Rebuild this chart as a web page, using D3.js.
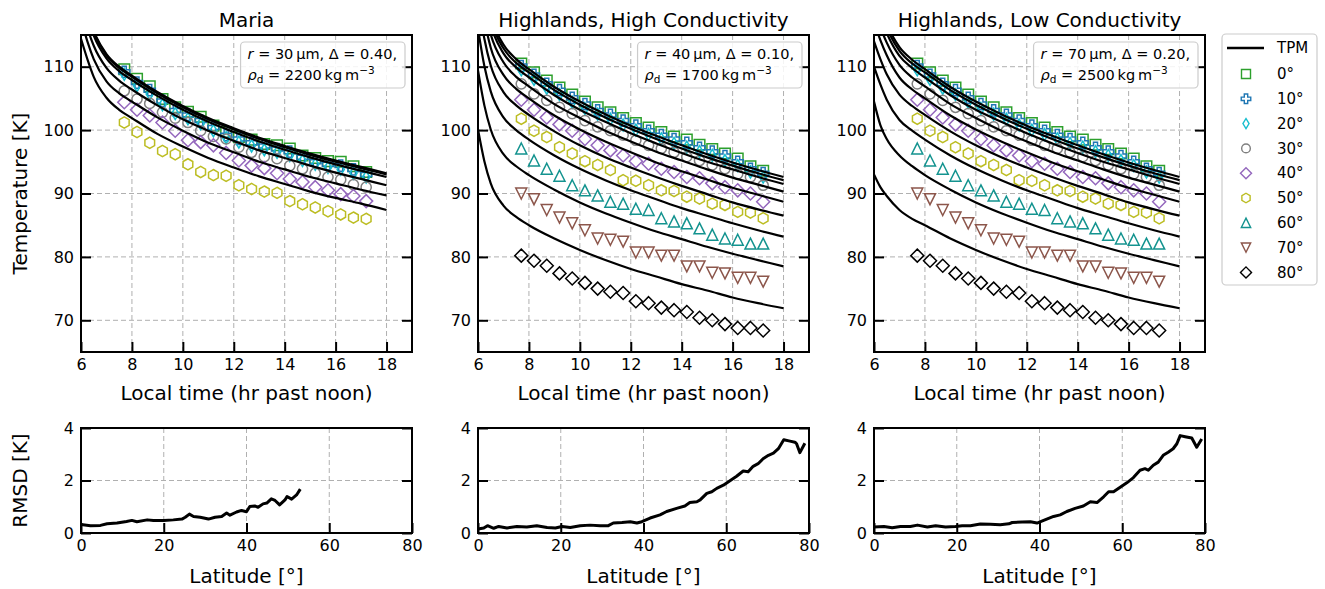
<!DOCTYPE html>
<html>
<head>
<meta charset="utf-8">
<script src="https://cdn.jsdelivr.net/npm/d3@7"></script>
<style>
  body { margin: 0; background: #fff; }
  svg { font-family: "DejaVu Sans", sans-serif; }
</style>
</head>
<body>
<svg id="chart" width="1325" height="589"></svg>
<script>
// latitudes and their legend styling
var latLabels = ["0°", "10°", "20°", "30°", "40°", "50°", "60°", "70°", "80°"];
var latColors = ["#2ca02c", "#1f77b4", "#17becf", "#7f7f7f", "#9467bd", "#bcbd22", "#13938f", "#8c564b", "#000000"];
var latMarkers = ["square", "plus", "thin", "circle", "diamond", "hexagon", "up", "down", "diamond"];

var panelTitles = ["Maria", "Highlands, High Conductivity", "Highlands, Low Conductivity"];
var panelR = ["30", "40", "70"];
var panelDelta = ["0.40", "0.10", "0.20"];
var panelRho = ["2200", "1700", "2500"];

// local time of the observation bins (hr past noon)
var obsTimes = [7.7, 8.2, 8.7, 9.2, 9.7, 10.2, 10.7, 11.2, 11.7, 12.2, 12.7, 13.2, 13.7, 14.2, 14.7, 15.2, 15.7, 16.2, 16.7, 17.2];
// times where the TPM curves were read
var tpmTimes = [6, 6.25, 6.5, 7, 7.5, 8, 9, 10, 11, 12, 13, 14, 15, 16, 17, 18];

// Maria observations, 0..50 deg
var mariaObs = [
  [109.6, 108.1, 106.9, 104.9, 103.6, 102.9, 102.1, 100.7, 99.7, 98.9, 98.5, 97.8, 97.6, 97.1, 96.0, 95.6, 95.1, 95.0, 94.3, 93.4],
  [109.2, 107.5, 106.3, 104.6, 103.1, 102.4, 101.5, 100.4, 99.2, 98.6, 98.0, 97.5, 97.0, 96.6, 95.7, 95.0, 94.6, 94.4, 93.8, 93.0],
  [108.8, 107.0, 105.7, 104.0, 102.6, 101.8, 101.0, 99.9, 98.8, 98.1, 97.5, 96.9, 96.5, 96.0, 95.2, 94.6, 94.1, 93.8, 93.2, 92.6],
  [106.2, 104.9, 104.2, 102.8, 101.9, 101.2, 99.9, 99.0, 98.6, 97.3, 96.5, 95.8, 95.5, 94.4, 93.9, 93.2, 92.6, 92.2, 91.4, 91.0],
  [104.4, 103.2, 102.3, 101.2, 99.9, 98.4, 98.1, 97.6, 96.4, 95.2, 94.4, 94.0, 93.2, 92.3, 91.8, 91.0, 90.5, 89.9, 89.6, 88.8],
  [101.2, 99.7, 98.0, 96.7, 96.2, 94.6, 93.4, 92.9, 92.8, 91.3, 90.7, 90.3, 90.1, 88.8, 88.3, 87.8, 87.2, 86.7, 86.2, 86.0]
];
var mariaTpm = [
  [122.0, 118.5, 115.6, 112.0, 110.0, 108.6, 106.0, 103.8, 101.9, 100.3, 98.8, 97.5, 96.3, 95.2, 94.2, 93.2],
  [121.8, 118.3, 115.4, 111.8, 109.8, 108.4, 105.8, 103.6, 101.7, 100.1, 98.6, 97.3, 96.1, 95.0, 94.0, 93.0],
  [121.3, 117.8, 114.9, 111.3, 109.3, 107.9, 105.4, 103.2, 101.3, 99.7, 98.2, 96.9, 95.7, 94.6, 93.6, 92.6],
  [119.6, 116.1, 113.3, 109.8, 107.8, 106.4, 103.9, 101.7, 99.9, 98.3, 96.8, 95.6, 94.4, 93.3, 92.3, 91.3],
  [117.4, 114.0, 111.2, 107.7, 105.8, 104.5, 102.0, 99.9, 98.0, 96.5, 95.0, 93.8, 92.6, 91.6, 90.6, 89.7],
  [114.4, 111.2, 108.4, 105.1, 103.2, 101.9, 99.4, 97.4, 95.6, 94.1, 92.7, 91.5, 90.3, 89.3, 88.4, 87.4]
];

// Highlands observations, 0..80 deg (same in both highland panels)
var highObs = [
  [110.5, 109.1, 107.8, 106.7, 105.6, 104.5, 103.6, 102.8, 101.9, 101.1, 100.4, 99.7, 99.0, 98.5, 97.7, 97.0, 96.3, 95.5, 94.3, 93.6],
  [110.1, 108.7, 107.3, 106.3, 105.1, 104.1, 103.1, 102.4, 101.5, 100.7, 99.9, 99.2, 98.6, 98.0, 97.2, 96.6, 95.9, 95.0, 93.9, 93.2],
  [109.5, 108.0, 106.6, 105.6, 104.4, 103.4, 102.5, 101.7, 100.8, 100.0, 99.3, 98.6, 97.9, 97.3, 96.6, 96.0, 95.2, 94.4, 93.4, 92.6],
  [107.3, 105.7, 104.7, 103.6, 102.6, 101.5, 100.5, 99.9, 99.2, 98.4, 97.6, 97.1, 96.5, 95.8, 95.2, 94.5, 93.9, 93.1, 92.6, 91.3],
  [104.8, 103.2, 102.0, 100.9, 99.9, 98.6, 97.6, 96.8, 96.0, 95.1, 94.7, 93.9, 93.4, 92.6, 92.4, 91.6, 91.0, 90.5, 90.0, 88.7],
  [101.8, 99.9, 98.9, 97.3, 96.3, 95.1, 94.5, 93.7, 92.1, 92.0, 91.3, 90.5, 90.4, 89.5, 89.2, 88.4, 88.2, 87.1, 87.0, 86.1],
  [97.1, 95.2, 93.9, 92.8, 91.3, 90.5, 89.7, 88.7, 88.4, 87.6, 87.4, 86.1, 85.6, 85.3, 84.5, 83.5, 82.9, 82.7, 82.1, 82.1],
  [90.0, 89.1, 87.4, 86.2, 85.3, 84.2, 82.9, 82.7, 82.4, 80.7, 80.7, 80.2, 80.2, 78.5, 78.5, 77.5, 77.4, 76.7, 76.7, 76.1],
  [80.2, 79.4, 78.6, 77.4, 76.6, 75.9, 75.0, 74.5, 74.3, 73.0, 72.7, 72.0, 71.6, 71.3, 70.4, 70.0, 69.4, 68.8, 68.8, 68.4]
];
var highCondTpm = [
  [129.0, 122.5, 118.0, 113.5, 111.2, 109.6, 106.8, 104.5, 102.5, 100.7, 99.1, 97.6, 96.2, 94.9, 93.7, 92.6],
  [128.4, 121.9, 117.4, 112.9, 110.6, 109.1, 106.3, 104.0, 102.0, 100.2, 98.6, 97.1, 95.7, 94.4, 93.2, 92.1],
  [127.5, 121.0, 116.6, 112.1, 109.9, 108.3, 105.5, 103.2, 101.3, 99.5, 97.9, 96.4, 95.0, 93.8, 92.6, 91.5],
  [125.8, 119.4, 115.1, 110.7, 108.4, 106.9, 104.1, 101.9, 99.9, 98.2, 96.6, 95.2, 93.8, 92.5, 91.4, 90.3],
  [123.6, 117.4, 113.0, 108.7, 106.5, 105.0, 102.3, 100.1, 98.2, 96.5, 94.9, 93.5, 92.2, 90.9, 89.8, 88.7],
  [120.5, 114.4, 110.2, 106.0, 103.9, 102.4, 99.8, 97.6, 95.7, 94.1, 92.6, 91.2, 89.9, 88.6, 87.5, 86.5],
  [116.0, 110.1, 106.1, 102.0, 100.0, 98.5, 96.0, 93.9, 92.1, 90.5, 89.1, 87.7, 86.5, 85.3, 84.2, 83.2],
  [109.4, 103.9, 100.1, 96.2, 94.3, 92.9, 90.6, 88.6, 86.9, 85.4, 84.0, 82.8, 81.6, 80.5, 79.5, 78.5],
  [100.1, 95.1, 91.6, 88.1, 86.3, 85.0, 82.9, 81.1, 79.5, 78.1, 76.9, 75.7, 74.7, 73.6, 72.7, 71.9]
];
var lowCondTpm = [
  [122.0, 119.2, 116.7, 113.1, 111.1, 109.6, 106.8, 104.5, 102.5, 100.7, 99.1, 97.6, 96.2, 94.9, 93.7, 92.6],
  [121.4, 118.6, 116.1, 112.5, 110.5, 109.1, 106.3, 104.0, 102.0, 100.2, 98.6, 97.1, 95.7, 94.4, 93.2, 92.1],
  [120.6, 117.8, 115.3, 111.7, 109.8, 108.3, 105.5, 103.2, 101.3, 99.5, 97.9, 96.4, 95.0, 93.8, 92.6, 91.5],
  [119.0, 116.2, 113.8, 110.3, 108.3, 106.9, 104.1, 101.9, 99.9, 98.2, 96.6, 95.2, 93.8, 92.5, 91.4, 90.3],
  [117.0, 114.2, 111.8, 108.3, 106.4, 105.0, 102.3, 100.1, 98.2, 96.5, 94.9, 93.5, 92.2, 90.9, 89.8, 88.7],
  [114.0, 111.2, 108.8, 105.6, 103.8, 102.4, 99.8, 97.6, 95.7, 94.1, 92.6, 91.2, 89.9, 88.6, 87.5, 86.5],
  [110.0, 107.2, 104.8, 101.6, 99.9, 98.5, 96.0, 93.9, 92.1, 90.5, 89.1, 87.7, 86.5, 85.3, 84.2, 83.2],
  [104.5, 100.8, 98.6, 96.0, 94.3, 92.9, 90.6, 88.6, 86.9, 85.4, 84.0, 82.8, 81.6, 80.5, 79.5, 78.5],
  [93.0, 91.0, 89.6, 87.4, 86.0, 85.0, 82.9, 81.1, 79.5, 78.1, 76.9, 75.7, 74.7, 73.6, 72.7, 71.9]
];

// RMSD vs latitude
var mariaRmsdLat = [0, 2.3, 4.7, 6.3, 8.7, 11, 12.3, 13.5, 16, 17.5, 20, 22.3, 24.4, 25.2, 26.2, 27.2, 28.8, 30.8, 32.4, 34, 35.2, 36, 37.6, 38.8, 40, 40.8, 42, 42.8, 44, 44.9, 46, 46.9, 48, 49.3, 49.8, 50.9, 52.1, 53];
var mariaRmsd = [0.32, 0.28, 0.29, 0.35, 0.38, 0.44, 0.48, 0.43, 0.5, 0.48, 0.48, 0.5, 0.53, 0.6, 0.72, 0.63, 0.6, 0.53, 0.6, 0.63, 0.76, 0.68, 0.8, 0.86, 0.81, 1.01, 1.03, 0.98, 1.11, 1.14, 1.3, 1.24, 1.07, 1.26, 1.39, 1.29, 1.45, 1.67];
var highCondRmsdLat = [0, 1.4, 2.3, 3.8, 5, 7, 9.4, 11.8, 14.2, 16.7, 18.7, 20.3, 22.3, 24.7, 27.1, 29.5, 31.5, 32.7, 34.8, 36.8, 38.4, 39.6, 41.6, 44, 45.6, 48, 50, 51.2, 52.9, 53.7, 55.3, 56.5, 57.7, 59.3, 60.9, 62.5, 64.1, 65.3, 66.5, 67.7, 68.9, 70.2, 71.4, 72.6, 73.9, 75.4, 76.6, 77, 77.8, 79];
var highCondRmsd = [0.15, 0.19, 0.28, 0.18, 0.25, 0.19, 0.25, 0.23, 0.28, 0.21, 0.19, 0.25, 0.21, 0.28, 0.3, 0.28, 0.28, 0.38, 0.4, 0.43, 0.38, 0.43, 0.57, 0.69, 0.82, 0.94, 1.03, 1.16, 1.19, 1.26, 1.51, 1.57, 1.7, 1.82, 1.99, 2.16, 2.36, 2.33, 2.54, 2.64, 2.83, 2.96, 3.04, 3.21, 3.55, 3.5, 3.46, 3.4, 3.06, 3.42];
var lowCondRmsdLat = [0, 2.4, 4.4, 6.4, 8.8, 10.5, 12.9, 14.9, 17.3, 19.7, 21.3, 23.3, 25.7, 28.1, 30.5, 32.6, 33.4, 35.8, 37.8, 39.4, 41, 43.4, 45, 46.6, 48.6, 50.6, 52.3, 53.9, 55.5, 56.7, 57.9, 59.5, 61.1, 62.7, 64.3, 65.5, 66.3, 67.5, 68.7, 69.9, 71.1, 72.3, 73.2, 74, 75.2, 76.8, 78, 79.2];
var lowCondRmsd = [0.23, 0.25, 0.2, 0.25, 0.25, 0.3, 0.23, 0.28, 0.23, 0.25, 0.28, 0.28, 0.34, 0.33, 0.31, 0.35, 0.4, 0.42, 0.43, 0.38, 0.48, 0.63, 0.69, 0.82, 0.94, 1.03, 1.19, 1.16, 1.38, 1.57, 1.57, 1.74, 1.91, 2.11, 2.39, 2.45, 2.39, 2.58, 2.7, 2.96, 3.08, 3.21, 3.4, 3.71, 3.67, 3.62, 3.27, 3.58];

var timeTicks = [6, 8, 10, 12, 14, 16, 18];
var tempTicks = [70, 80, 90, 100, 110];
var latTicks = [0, 20, 40, 60, 80];
var rmsdTicks = [0, 2, 4];

var panelObs = [mariaObs, highObs, highObs];
var panelTpm = [mariaTpm, highCondTpm, lowCondTpm];
var panelRmsdLat = [mariaRmsdLat, highCondRmsdLat, lowCondRmsdLat];
var panelRmsd = [mariaRmsd, highCondRmsd, lowCondRmsd];

var svg = d3.select("#chart");
var panelLeft = [81, 478, 874], panelW = 331;
var topY0 = 35, topY1 = 352, botY0 = 428, botY1 = 533;
var gridColor = "#b0b0b0";
var labelSize = 20;

// marker outlines centred on the bounding box (like matplotlib)
function markerPath(kind, sc) {
  sc = sc || 1;
  var p = d3.path(), s;
  if (kind == "square") {
    s = 5.3 * sc; p.rect(-s, -s, 2 * s, 2 * s);
  } else if (kind == "plus") {
    s = 5.6 * sc; var a = 2 * sc;
    var pts = [[-a,-s],[a,-s],[a,-a],[s,-a],[s,a],[a,a],[a,s],[-a,s],[-a,a],[-s,a],[-s,-a],[-a,-a]];
    pts.forEach(function(q, i) { i ? p.lineTo(q[0], q[1]) : p.moveTo(q[0], q[1]); });
    p.closePath();
  } else if (kind == "thin") {
    s = 6 * sc;
    p.moveTo(0, -s); p.lineTo(0.6 * s, 0); p.lineTo(0, s); p.lineTo(-0.6 * s, 0); p.closePath();
  } else if (kind == "circle") {
    s = 5.1 * sc; p.moveTo(s, 0); p.arc(0, 0, s, 0, 2 * Math.PI);
  } else if (kind == "diamond") {
    s = 6.5 * sc;
    p.moveTo(0, -s); p.lineTo(s, 0); p.lineTo(0, s); p.lineTo(-s, 0); p.closePath();
  } else if (kind == "hexagon") {
    s = 5.6 * sc;
    for (var k = 0; k < 6; k++) {
      var ang = -Math.PI / 2 + k * Math.PI / 3;
      k ? p.lineTo(s * Math.cos(ang), s * Math.sin(ang)) : p.moveTo(s * Math.cos(ang), s * Math.sin(ang));
    }
    p.closePath();
  } else if (kind == "up") {
    s = 5.5 * sc;
    p.moveTo(0, -s); p.lineTo(s, s); p.lineTo(-s, s); p.closePath();
  } else if (kind == "down") {
    s = 5.5 * sc;
    p.moveTo(0, s); p.lineTo(s, -s); p.lineTo(-s, -s); p.closePath();
  }
  return p.toString();
}

function drawFrame(g, w, h) {
  g.append("rect").attr("width", w).attr("height", h)
    .attr("fill", "none").attr("stroke", "#000").attr("stroke-width", 2);
}

function styleAxis(g) {
  g.select(".domain").remove();
  g.selectAll(".tick line").attr("stroke", "#000").attr("stroke-width", 2);
  g.selectAll(".tick text").attr("font-size", 16).attr("font-family", "DejaVu Sans").attr("fill", "#000");
}

for (var pi = 0; pi < 3; pi++) {
  var x0 = panelLeft[pi];
  var x = d3.scaleLinear().domain([6, 19]).range([x0, x0 + panelW]);
  var y = d3.scaleLinear().domain([65, 115]).range([topY1, topY0]);

  var clipId = "clip" + pi;
  svg.append("clipPath").attr("id", clipId).append("rect")
    .attr("x", x0).attr("y", topY0).attr("width", panelW).attr("height", topY1 - topY0);

  // gridlines
  var grid = svg.append("g");
  timeTicks.forEach(function(t) {
    grid.append("line").attr("x1", x(t)).attr("x2", x(t)).attr("y1", topY0).attr("y2", topY1)
      .attr("stroke", gridColor).attr("stroke-dasharray", "5,3");
  });
  tempTicks.forEach(function(t) {
    grid.append("line").attr("x1", x0).attr("x2", x0 + panelW).attr("y1", y(t)).attr("y2", y(t))
      .attr("stroke", gridColor).attr("stroke-dasharray", "5,3");
  });

  // data + model, per latitude
  var plot = svg.append("g").attr("clip-path", "url(#" + clipId + ")");
  var obs = panelObs[pi], tpm = panelTpm[pi];
  var line = d3.line().x(function(d, i) { return x(tpmTimes[i]); }).y(function(d) { return y(d); })
    .curve(d3.curveMonotoneX);
  obs.forEach(function(series, li) {
    plot.append("g").selectAll("path").data(series).enter().append("path")
      .attr("d", markerPath(latMarkers[li]))
      .attr("transform", function(d, i) { return "translate(" + x(obsTimes[i]) + "," + y(d) + ")"; })
      .attr("fill", "none").attr("stroke", latColors[li]).attr("stroke-width", 1.5);
  });
  tpm.forEach(function(series) {
    plot.append("path").attr("d", line(series))
      .attr("fill", "none").attr("stroke", "#000").attr("stroke-width", 2.2);
  });

  // axes, ticks pointing inward
  svg.append("g").attr("transform", "translate(0," + topY1 + ")")
    .call(d3.axisBottom(x).tickValues(timeTicks).tickSize(-10).tickPadding(7).tickFormat(d3.format("d")))
    .call(styleAxis);
  svg.append("g").attr("transform", "translate(" + x0 + ",0)")
    .call(d3.axisLeft(y).tickValues(tempTicks).tickSize(-10).tickPadding(7).tickFormat(d3.format("d")))
    .call(styleAxis);
  svg.append("g").attr("transform", "translate(" + (x0 + panelW) + ",0)")
    .call(d3.axisRight(y).tickValues(tempTicks).tickSize(-10).tickFormat(""))
    .call(styleAxis);
  drawFrame(svg.append("g").attr("transform", "translate(" + x0 + "," + topY0 + ")"), panelW, topY1 - topY0);

  svg.append("text").attr("x", x0 + panelW / 2).attr("y", 27).attr("text-anchor", "middle")
    .attr("font-size", labelSize).text(panelTitles[pi]);
  svg.append("text").attr("x", x0 + panelW / 2).attr("y", 400).attr("text-anchor", "middle")
    .attr("font-size", labelSize).text("Local time (hr past noon)");

  // parameter box
  var ann = svg.append("g");
  var annText = ann.append("text").attr("font-size", 14.5);
  var l1 = annText.append("tspan").attr("x", 0).attr("y", 59);
  l1.append("tspan").attr("font-style", "italic").text("r");
  l1.append("tspan").text(" = " + panelR[pi] + "\u2009\u03bcm, \u0394 = " + panelDelta[pi] + ",");
  var l2 = annText.append("tspan").attr("x", 0).attr("y", 80);
  l2.append("tspan").attr("font-style", "italic").text("\u03c1");
  l2.append("tspan").attr("font-size", 10.5).attr("dy", 3).text("d");
  l2.append("tspan").attr("dy", -3).text(" = " + panelRho[pi] + "\u2009kg\u2009m");
  l2.append("tspan").attr("font-size", 10.5).attr("dy", -6).text("\u22123");
  var tw = annText.node().getBBox().width;
  var boxR = x0 + panelW - 7, boxL = boxR - tw - 15;
  l1.attr("x", boxL + 7); l2.attr("x", boxL + 7);
  ann.insert("rect", "text").attr("x", boxL).attr("y", 42).attr("width", boxR - boxL).attr("height", 46)
    .attr("rx", 4).attr("fill", "#fff").attr("fill-opacity", 0.85)
    .attr("stroke", "#cccccc").attr("stroke-width", 1.2);

  // RMSD panel
  var xb = d3.scaleLinear().domain([0, 80]).range([x0, x0 + panelW]);
  var yb = d3.scaleLinear().domain([0, 4]).range([botY1, botY0]);
  var gridB = svg.append("g");
  [20, 40, 60].forEach(function(t) {
    gridB.append("line").attr("x1", xb(t)).attr("x2", xb(t)).attr("y1", botY0).attr("y2", botY1)
      .attr("stroke", gridColor).attr("stroke-dasharray", "5,3");
  });
  gridB.append("line").attr("x1", x0).attr("x2", x0 + panelW).attr("y1", yb(2)).attr("y2", yb(2))
    .attr("stroke", gridColor).attr("stroke-dasharray", "5,3");

  var lats = panelRmsdLat[pi];
  var rLine = d3.line().x(function(d, i) { return xb(lats[i]); }).y(function(d) { return yb(d); });
  svg.append("path").attr("d", rLine(panelRmsd[pi]))
    .attr("fill", "none").attr("stroke", "#000").attr("stroke-width", 3).attr("stroke-linejoin", "round");

  svg.append("g").attr("transform", "translate(0," + botY1 + ")")
    .call(d3.axisBottom(xb).tickValues(latTicks).tickSize(-10).tickPadding(7).tickFormat(d3.format("d")))
    .call(styleAxis);
  svg.append("g").attr("transform", "translate(" + x0 + ",0)")
    .call(d3.axisLeft(yb).tickValues(rmsdTicks).tickSize(-10).tickPadding(7).tickFormat(d3.format("d")))
    .call(styleAxis);
  svg.append("g").attr("transform", "translate(" + (x0 + panelW) + ",0)")
    .call(d3.axisRight(yb).tickValues(rmsdTicks).tickSize(-10).tickFormat(""))
    .call(styleAxis);
  drawFrame(svg.append("g").attr("transform", "translate(" + x0 + "," + botY0 + ")"), panelW, botY1 - botY0);
  svg.append("text").attr("x", x0 + panelW / 2).attr("y", 583).attr("text-anchor", "middle")
    .attr("font-size", labelSize).text("Latitude [°]");
}

svg.append("text").attr("transform", "translate(27," + ((topY0 + topY1) / 2) + ") rotate(-90)")
  .attr("text-anchor", "middle").attr("font-size", labelSize).text("Temperature [K]");
svg.append("text").attr("transform", "translate(27," + ((botY0 + botY1) / 2) + ") rotate(-90)")
  .attr("text-anchor", "middle").attr("font-size", labelSize).text("RMSD [K]");

// legend
var leg = svg.append("g");
leg.append("rect").attr("x", 1222).attr("y", 34).attr("width", 95).attr("height", 251)
  .attr("rx", 4).attr("fill", "#fff").attr("stroke", "#cccccc").attr("stroke-width", 1.2);
leg.append("line").attr("x1", 1227).attr("x2", 1264).attr("y1", 48).attr("y2", 48)
  .attr("stroke", "#000").attr("stroke-width", 2.5);
leg.append("text").attr("x", 1277).attr("y", 48).attr("dy", "0.35em").attr("font-size", 15).text("TPM");
latLabels.forEach(function(lab, i) {
  var yy = 74 + i * 24.8;
  leg.append("path").attr("d", markerPath(latMarkers[i], 0.85))
    .attr("transform", "translate(1246," + yy + ")")
    .attr("fill", "none").attr("stroke", latColors[i]).attr("stroke-width", 1.4);
  leg.append("text").attr("x", 1277).attr("y", yy).attr("dy", "0.35em").attr("font-size", 15).text(lab);
});
</script>
</body>
</html>
